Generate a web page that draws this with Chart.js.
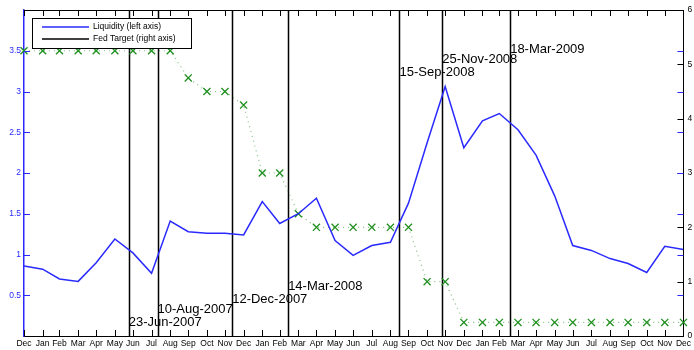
<!DOCTYPE html>
<html lang="en">

<head>
  <meta charset="UTF-8">
  <title>Liquidity and Fed Target</title>
  <script src="https://cdn.jsdelivr.net/npm/chart.js@4.4.0/dist/chart.umd.min.js"></script>
  <style>
    html, body { margin: 0; padding: 0; background: #fff; }
    #wrap { width: 694px; height: 350px; }
  </style>
</head>

<body>
  <div id="wrap">
    <canvas id="liqChart" width="694" height="350"></canvas>
  </div>

  <script>
    // month-end ticks, Dec 2006 .. Dec 2009
    const months = ['Dec',
      'Jan', 'Feb', 'Mar', 'Apr', 'May', 'Jun', 'Jul', 'Aug', 'Sep', 'Oct', 'Nov', 'Dec',
      'Jan', 'Feb', 'Mar', 'Apr', 'May', 'Jun', 'Jul', 'Aug', 'Sep', 'Oct', 'Nov', 'Dec',
      'Jan', 'Feb', 'Mar', 'Apr', 'May', 'Jun', 'Jul', 'Aug', 'Sep', 'Oct', 'Nov', 'Dec'];

    const liquidity = [0.86,
      0.82, 0.70, 0.67, 0.90, 1.19, 1.02, 0.77, 1.41, 1.28, 1.26, 1.26, 1.24,
      1.65, 1.38, 1.50, 1.69, 1.17, 0.99, 1.11, 1.15, 1.63, 2.37, 3.06, 2.31,
      2.64, 2.73, 2.53, 2.22, 1.72, 1.11, 1.05, 0.95, 0.89, 0.78, 1.10, 1.06];

    const fedTarget = [5.25,
      5.25, 5.25, 5.25, 5.25, 5.25, 5.25, 5.25, 5.25, 4.75, 4.5, 4.5, 4.25,
      3.0, 3.0, 2.25, 2.0, 2.0, 2.0, 2.0, 2.0, 2.0, 1.0, 1.0, 0.25,
      0.25, 0.25, 0.25, 0.25, 0.25, 0.25, 0.25, 0.25, 0.25, 0.25, 0.25, 0.25];

    const eventDates = ['2007-06-23', '2007-08-10', '2007-12-12', '2008-03-14', '2008-09-15', '2008-11-25', '2009-03-18'];
    const eventLabels = ['23-Jun-2007', '10-Aug-2007', '12-Dec-2007', '14-Mar-2008', '15-Sep-2008', '25-Nov-2008', '18-Mar-2009'];
    // height of each event label, on the left axis
    const eventLevels = [0.17, 0.32, 0.45, 0.61, 3.24, 3.39, 3.52];

    const leftTicks = [0.5, 1, 1.5, 2, 2.5, 3, 3.5];
    const rightTicks = [1, 2, 3, 4, 5];

    const DAY = 86400000;
    const start = Date.UTC(2006, 11, 31);
    const toDays = t => (t - start) / DAY;
    const monthEnds = months.map((m, i) => toDays(Date.UTC(2006, 12 + i, 0)));
    const eventDays = eventDates.map(s => {
      const p = s.split('-').map(Number);
      return toDays(Date.UTC(p[0], p[1] - 1, p[2]));
    });

    const BLUE = '#2a2aff';
    const GREEN = '#1f8f1f';
    const FONT = '"Liberation Sans", Arial, sans-serif';

    const framePlugin = {
      id: 'frame',
      beforeDatasetsDraw(chart) {
        const ctx = chart.ctx;
        const { top, bottom } = chart.chartArea;
        const x = chart.scales.x;
        ctx.save();
        ctx.strokeStyle = '#000';
        ctx.lineWidth = 1.5;
        eventDays.forEach(d => {
          const px = Math.round(x.getPixelForValue(d)) + 0.5;
          ctx.beginPath();
          ctx.moveTo(px, top);
          ctx.lineTo(px, bottom);
          ctx.stroke();
        });
        ctx.restore();
      },
      afterDraw(chart) {
        const ctx = chart.ctx;
        const { left, right, top, bottom } = chart.chartArea;
        const x = chart.scales.x, y = chart.scales.y, y1 = chart.scales.y1;
        ctx.save();

        // top edge of the box
        ctx.strokeStyle = '#000';
        ctx.lineWidth = 1;
        ctx.beginPath();
        ctx.moveTo(left, top + 0.5);
        ctx.lineTo(right, top + 0.5);
        ctx.stroke();

        // inward month ticks, bottom and top
        ctx.beginPath();
        monthEnds.forEach(d => {
          const px = Math.round(x.getPixelForValue(d)) + 0.5;
          ctx.moveTo(px, bottom);
          ctx.lineTo(px, bottom - 6);
          ctx.moveTo(px, top);
          ctx.lineTo(px, top + 6);
        });
        ctx.stroke();

        // right axis ticks
        ctx.beginPath();
        rightTicks.forEach(v => {
          const py = Math.round(y1.getPixelForValue(v)) + 0.5;
          ctx.moveTo(right, py);
          ctx.lineTo(right - 6, py);
        });
        ctx.stroke();

        // left axis ticks, mirrored on the right
        ctx.strokeStyle = BLUE;
        ctx.beginPath();
        leftTicks.forEach(v => {
          const py = Math.round(y.getPixelForValue(v)) + 0.5;
          ctx.moveTo(left, py);
          ctx.lineTo(left + 6, py);
          ctx.moveTo(right, py);
          ctx.lineTo(right - 6, py);
        });
        ctx.stroke();

        // event labels
        ctx.fillStyle = '#000';
        ctx.font = '13px ' + FONT;
        ctx.textAlign = 'left';
        ctx.textBaseline = 'middle';
        eventLabels.forEach((t, i) => {
          ctx.fillText(t, x.getPixelForValue(eventDays[i]), y.getPixelForValue(eventLevels[i]));
        });

        // legend
        const lx = 32, ly = 18, lw = 159, lh = 30;
        ctx.fillStyle = '#fff';
        ctx.fillRect(lx, ly, lw, lh);
        ctx.strokeStyle = '#000';
        ctx.lineWidth = 1;
        ctx.strokeRect(lx + 0.5, ly + 0.5, lw, lh);
        ctx.lineWidth = 1.5;
        ctx.strokeStyle = BLUE;
        ctx.beginPath();
        ctx.moveTo(lx + 10, ly + 9);
        ctx.lineTo(lx + 57, ly + 9);
        ctx.stroke();
        ctx.strokeStyle = '#000';
        ctx.beginPath();
        ctx.moveTo(lx + 10, ly + 21);
        ctx.lineTo(lx + 57, ly + 21);
        ctx.stroke();
        ctx.fillStyle = '#000';
        ctx.font = '8.5px ' + FONT;
        ctx.fillText('Liquidity (left axis)', lx + 61, ly + 9);
        ctx.fillText('Fed Target (right axis)', lx + 61, ly + 21);

        ctx.restore();
      }
    };

    new Chart(document.getElementById('liqChart'), {
      type: 'line',
      data: {
        datasets: [
          {
            label: 'Liquidity (left axis)',
            data: liquidity.map((v, i) => ({ x: monthEnds[i], y: v })),
            yAxisID: 'y',
            borderColor: BLUE,
            borderWidth: 1.5,
            pointRadius: 0,
            tension: 0
          },
          {
            label: 'Fed Target (right axis)',
            data: fedTarget.map((v, i) => ({ x: monthEnds[i], y: v })),
            yAxisID: 'y1',
            borderColor: 'rgba(31, 143, 31, 0.55)',
            borderWidth: 1.2,
            borderDash: [1, 4],
            pointStyle: 'crossRot',
            pointRadius: 5,
            pointBorderColor: GREEN,
            pointBorderWidth: 1.3,
            tension: 0,
            clip: false
          }
        ]
      },
      options: {
        responsive: false,
        animation: false,
        devicePixelRatio: 1,
        layout: { padding: { top: 10, left: 0, right: 0, bottom: 0 } },
        plugins: {
          legend: { display: false },
          tooltip: { enabled: false }
        },
        scales: {
          x: {
            type: 'linear',
            min: monthEnds[0],
            max: monthEnds[monthEnds.length - 1],
            afterBuildTicks: scale => {
              scale.ticks = monthEnds.map(v => ({ value: v }));
            },
            afterFit: scale => { scale.height = 14; },
            grid: { display: false, drawTicks: false },
            border: { display: true, color: '#000', width: 1 },
            ticks: {
              autoSkip: false,
              maxRotation: 0,
              padding: 3,
              color: '#000',
              font: { family: FONT, size: 8.5 },
              callback: (v, i) => months[i]
            }
          },
          y: {
            position: 'left',
            min: 0,
            max: 4,
            afterFit: scale => { scale.width = 24; },
            grid: { display: false, drawTicks: false },
            border: { display: true, color: BLUE, width: 1.5 },
            ticks: {
              stepSize: 0.5,
              padding: 3,
              color: BLUE,
              font: { family: FONT, size: 8.5 },
              callback: v => (v > 0 && v < 4 ? v : '')
            }
          },
          y1: {
            position: 'right',
            min: 0,
            max: 6,
            afterFit: scale => { scale.width = 10; },
            grid: { display: false, drawTicks: false },
            border: { display: true, color: '#000', width: 1 },
            ticks: {
              stepSize: 1,
              padding: 4,
              color: '#000',
              font: { family: FONT, size: 8.5 }
            }
          }
        }
      },
      plugins: [framePlugin]
    });
  </script>
</body>

</html>
